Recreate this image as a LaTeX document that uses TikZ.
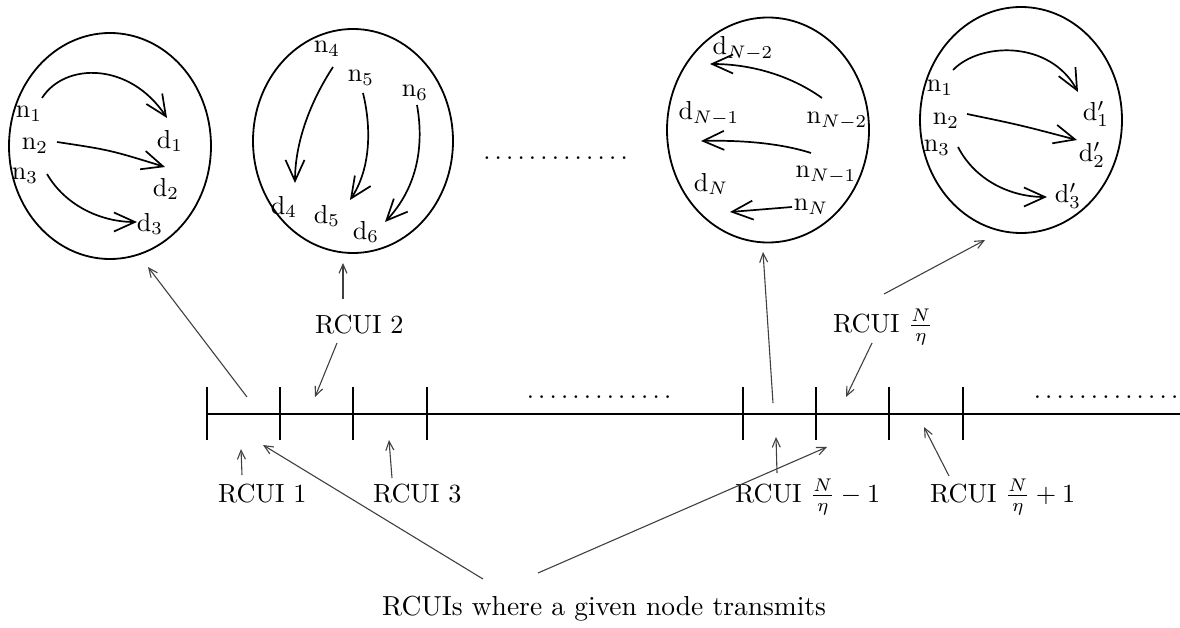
\documentclass[tikz,border=0pt]{standalone}
\usetikzlibrary{arrows.meta,shapes.geometric}
\newcommand{\mydot}{\hbox to 4.4pt{\hss.\hss}}
\newcommand{\dotrow}{\mydot\mydot\mydot\mydot\mydot\mydot\mydot\mydot\mydot\mydot\mydot\mydot\mydot}
\begin{document}
\begin{tikzpicture}[x=1pt,y=-1pt,
  every node/.style={inner sep=0pt,outer sep=0pt},
  lab/.style={scale=2.6,anchor=center},
  rc/.style={scale=2.62,anchor=base west},
  oval/.style={ellipse,draw,line width=1.8pt},
  flow/.style={line width=1.7pt,-{Straight Barb[length=21pt,width=19pt,line width=1.7pt]}},
  conn/.style={line width=1.1pt,draw=black!75,-{Straight Barb[length=9pt,width=8pt]}},
  tickmark/.style={line width=1.8pt},
  axis/.style={line width=2.2pt}]
\useasboundingbox (0,0) rectangle (1180,628);

% ellipses
\node[oval,minimum width=202pt,minimum height=226pt] (e1) at (110,146) {};
\node[oval,minimum width=200pt,minimum height=224pt] (e2) at (353,141) {};
\node[oval,minimum width=202pt,minimum height=225pt] (e3) at (768,130) {};
\node[oval,minimum width=202pt,minimum height=226pt] (e4) at (1021,120) {};

% ellipse 1
\node[lab] (a1) at (29,114) {n$_1$};
\node[lab] (a2) at (35,146) {n$_2$};
\node[lab] (a3) at (25,176) {n$_3$};
\node[lab] (b1) at (170,141) {d$_1$};
\node[lab] (b2) at (166,189) {d$_2$};
\node[lab] (b3) at (150,224) {d$_3$};
\coordinate (a1s) at (42,98);  \coordinate (b1e) at (167,118);
\coordinate (a2s) at (57,142); \coordinate (b2e) at (165,167);
\coordinate (a3s) at (47,174); \coordinate (b3e) at (137,222);
\draw[flow] (a1s) .. controls (65,62) and (130,62) .. (b1e);
\draw[flow] (a2s) .. controls (110,150) .. (b2e);
\draw[flow] (a3s) .. controls (65,205) and (100,222) .. (b3e);

% ellipse 2
\node[lab] (a4) at (327,49) {n$_4$};
\node[lab] (a5) at (361,78) {n$_5$};
\node[lab] (a6) at (415,93) {n$_6$};
\node[lab] (b4) at (284,207) {d$_4$};
\node[lab] (b5) at (327,216) {d$_5$};
\node[lab] (b6) at (366,232) {d$_6$};
\coordinate (a4s) at (333,67);  \coordinate (b4e) at (295,183);
\coordinate (a5s) at (363,93);  \coordinate (b5e) at (350,200);
\coordinate (a6s) at (417,105); \coordinate (b6e) at (385,222);
\draw[flow] (a4s) .. controls (305,110) and (295,150) .. (b4e);
\draw[flow] (a5s) .. controls (372,130) and (370,170) .. (b5e);
\draw[flow] (a6s) .. controls (425,150) and (415,190) .. (b6e);

% ellipse 3
\node[lab] (c1) at (743,49) {d$_{N-2}$};
\node[lab] (m1) at (837,121) {n$_{N-2}$};
\node[lab] (c2) at (709,114) {d$_{N-1}$};
\node[lab] (m2) at (826,175) {n$_{N-1}$};
\node[lab] (c3) at (711,184) {d$_N$};
\node[lab] (m3) at (811,207) {n$_N$};
\coordinate (m1s) at (822,98);  \coordinate (c1e) at (710,64);
\coordinate (m2s) at (811,153); \coordinate (c2e) at (701,141);
\coordinate (m3s) at (792,207); \coordinate (c3e) at (730,212);
\draw[flow] (m1s) .. controls (790,75) and (750,64) .. (c1e);
\draw[flow] (m2s) .. controls (780,143) and (740,140) .. (c2e);
\draw[flow] (m3s) -- (c3e);

% ellipse 4
\node[lab] (p1) at (940,88) {n$_1$};
\node[lab] (p2) at (946,121) {n$_2$};
\node[lab] (p3) at (937,148) {n$_3$};
\node[lab] (q1) at (1096,114) {d$'_1$};
\node[lab] (q2) at (1092,155) {d$'_2$};
\node[lab] (q3) at (1068,196) {d$'_3$};
\coordinate (p1s) at (953,70);  \coordinate (q1e) at (1078,92);
\coordinate (p2s) at (967,114); \coordinate (q2e) at (1077,140);
\coordinate (p3s) at (958,147); \coordinate (q3e) at (1047,197);
\draw[flow] (p1s) .. controls (980,42) and (1050,40) .. (q1e);
\draw[flow] (p2s) .. controls (1020,125) .. (q2e);
\draw[flow] (p3s) .. controls (975,180) and (1010,197) .. (q3e);

% dots
\node[lab] (dtop) at (555.5,158) {\dotrow};
\node[lab] (dmid) at (599,397) {\dotrow};
\node[lab] (drig) at (1106,397) {\dotrow};

% timeline
\coordinate (L0) at (207,414);
\coordinate (L1) at (1180,414);
\draw[axis] (L0) -- (L1);
\foreach \x in {207,280,353,427,743,816,889,963}
  \draw[tickmark] (\x,387) -- (\x,440);

% labels
\node[rc] (r1) at (218,502) {RCUI 1};
\node[rc] (r2) at (315,333) {RCUI 2};
\node[rc] (r3) at (373,502) {RCUI 3};
\node[rc] (rn) at (833,332) {RCUI $\frac{N}{\eta}$};
\node[rc] (rm) at (735,502) {RCUI $\frac{N}{\eta}-1$};
\node[rc] (rp) at (930,502) {RCUI $\frac{N}{\eta}+1$};
\node[scale=2.75,anchor=base west] (bot) at (382,615) {RCUIs where a given node transmits};

% connectors
\coordinate (t1s) at (247,397);  \coordinate (t1e) at (148,267);
\coordinate (r2a) at (343,299);  \coordinate (r2b) at (343,263);
\coordinate (r2c) at (337,343);  \coordinate (r2d) at (315,397);
\coordinate (r1a) at (242,475);  \coordinate (r1b) at (241,449);
\coordinate (r3a) at (392,478);  \coordinate (r3b) at (389,440);
\coordinate (ba) at (483,579);   \coordinate (bb) at (263,445);
\coordinate (bc) at (538,573);   \coordinate (bd) at (827,447);
\coordinate (rma) at (777,473);  \coordinate (rmb) at (776,437);
\coordinate (t3s) at (773,403);  \coordinate (t3e) at (763,252);
\coordinate (rna) at (872,343);  \coordinate (rnb) at (846,397);
\coordinate (rnc) at (884,294);  \coordinate (rnd) at (985,240);
\coordinate (rpa) at (949,476);  \coordinate (rpb) at (924,427);
\draw[conn] (t1s) -- (t1e);
\draw[conn] (r2a) -- (r2b);
\draw[conn] (r2c) -- (r2d);
\draw[conn] (r1a) -- (r1b);
\draw[conn] (r3a) -- (r3b);
\draw[conn] (ba) -- (bb);
\draw[conn] (bc) -- (bd);
\draw[conn] (rma) -- (rmb);
\draw[conn] (t3s) -- (t3e);
\draw[conn] (rna) -- (rnb);
\draw[conn] (rnc) -- (rnd);
\draw[conn] (rpa) -- (rpb);
\end{tikzpicture}
\end{document}
